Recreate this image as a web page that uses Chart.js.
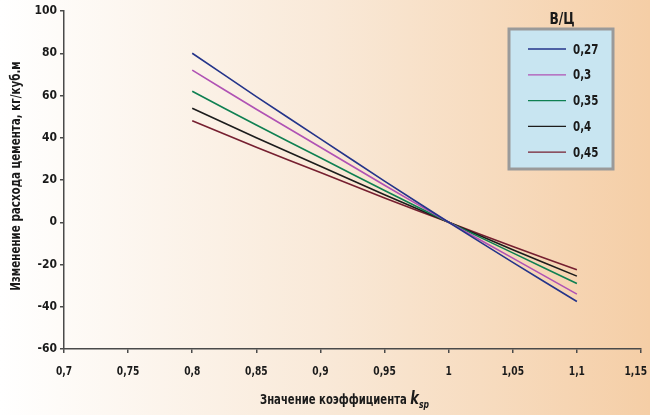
<!DOCTYPE html>
<html lang="ru">
<head>
<meta charset="utf-8">
<title>Изменение расхода цемента</title>
<script src="https://cdn.jsdelivr.net/npm/chart.js@4.4.1/dist/chart.umd.min.js"></script>
<style>
  html, body { margin: 0; padding: 0; background: #ffffff; }
  #wrap { width: 650px; height: 415px; position: relative; }
</style>
</head>
<body>
<div id="wrap"><canvas id="chart" width="650" height="415"></canvas></div>
<script>
// Значения коэффициента k_sp (ось X)
const kValues = [0.8, 0.85, 0.9, 0.95, 1, 1.05, 1.1];

// Изменение расхода цемента для разных В/Ц
const wc027 = [80, 59.5, 39.5, 19.5, 0, -19, -37.5];
const wc030 = [72, 53.5, 35.5, 17.5, 0, -17, -34];
const wc035 = [62, 46, 30.5, 15, 0, -14.5, -29];
const wc040 = [54, 40, 26.5, 13, 0, -13, -25.5];
const wc045 = [48, 35.5, 23.5, 11.5, 0, -11.5, -22.5];

const seriesLabels = ["0,27", "0,3", "0,35", "0,4", "0,45"];
const seriesValues = [wc027, wc030, wc035, wc040, wc045];
const seriesColors = ["#24348a", "#b052b4", "#0f8052", "#1c1c1c", "#761f30"];

const yTitle = "Изменение расхода цемента, кг/куб.м";
const xTitle = "Значение коэффициента ";

const FONT = "'DejaVu Sans Condensed', 'Liberation Sans Narrow', sans-serif";

Chart.defaults.font.family = FONT;
Chart.defaults.color = "#1a1a1a";

function fmt(v) {
  return String(Number(v.toFixed(2))).replace(".", ",");
}

// narrow text: draw squeezed horizontally to mimic a condensed face
function narrowText(ctx, text, x, y, sx) {
  ctx.save();
  ctx.translate(x, y);
  ctx.scale(sx, 1);
  ctx.fillText(text, 0, 0);
  ctx.restore();
  return ctx.measureText(text).width * sx;
}

// Background gradient behind whole picture
const bgPlugin = {
  id: "bg",
  beforeDraw(chart) {
    const ctx = chart.ctx;
    const g = ctx.createLinearGradient(0, 0, chart.width, 0);
    g.addColorStop(0, "#ffffff");
    g.addColorStop(0.5, "#f9e9d8");
    g.addColorStop(1, "#f5cea6");
    ctx.save();
    ctx.fillStyle = g;
    ctx.fillRect(0, 0, chart.width, chart.height);
    ctx.restore();
  },
};

// Legend box, x tick labels, axis titles
const extrasPlugin = {
  id: "extras",
  afterDraw(chart) {
    const ctx = chart.ctx;
    ctx.save();

    // x tick labels, placed by the x scale
    const xs = chart.scales.x;
    ctx.fillStyle = "#1a1a1a";
    ctx.font = "bold 13px " + FONT;
    ctx.textBaseline = "middle";
    ctx.textAlign = "left";
    xs.ticks.forEach((t) => {
      const s = fmt(t.value);
      const w = ctx.measureText(s).width * 0.78;
      const left = Math.min(xs.getPixelForValue(t.value) - w / 2, 647 - w);
      narrowText(ctx, s, left, 372, 0.78);
    });

    // legend
    const bx = 509, by = 29, bw = 104, bh = 140;
    ctx.fillStyle = "#c8e5f1";
    ctx.fillRect(bx, by, bw, bh);
    ctx.strokeStyle = "#9a9a9a";
    ctx.lineWidth = 3;
    ctx.strokeRect(bx, by, bw, bh);

    ctx.fillStyle = "#1a1a1a";
    ctx.font = "bold 16px " + FONT;
    const tw = ctx.measureText("В/Ц").width * 0.85;
    narrowText(ctx, "В/Ц", 562 - tw / 2, 20, 0.85);

    ctx.font = "bold 14px " + FONT;
    chart.data.datasets.forEach((ds, i) => {
      const y = 49 + i * 25.8;
      ctx.strokeStyle = ds.borderColor;
      ctx.lineWidth = 1.3;
      ctx.beginPath();
      ctx.moveTo(528, y);
      ctx.lineTo(566, y);
      ctx.stroke();
      ctx.fillStyle = "#1a1a1a";
      narrowText(ctx, ds.label, 573, y + 1, 0.82);
    });

    // x axis title
    ctx.textBaseline = "alphabetic";
    ctx.font = "bold 14px " + FONT;
    const x0 = 260, yb = 404;
    const w = narrowText(ctx, xTitle, x0, yb, 0.8);
    ctx.font = "italic bold 17px " + FONT;
    const wk = narrowText(ctx, "k", x0 + w, yb, 0.85);
    ctx.font = "italic bold 10px " + FONT;
    narrowText(ctx, "sp", x0 + w + wk, yb + 4, 0.85);

    // y axis title (rotated)
    ctx.font = "bold 14px " + FONT;
    ctx.textBaseline = "middle";
    ctx.textAlign = "center";
    ctx.save();
    ctx.translate(16, 176);
    ctx.rotate(-Math.PI / 2);
    ctx.scale(0.82, 1);
    ctx.fillText(yTitle, 0, 0);
    ctx.restore();

    ctx.restore();
  },
};

const datasets = seriesLabels.map((label, i) => ({
  label: label,
  data: kValues.map((k, j) => ({ x: k, y: seriesValues[i][j] })),
  borderColor: seriesColors[i],
  backgroundColor: seriesColors[i],
  borderWidth: 1.6,
  pointRadius: 0,
  tension: 0.3,
  fill: false,
}));

new Chart(document.getElementById("chart"), {
  type: "line",
  data: { datasets: datasets },
  options: {
    responsive: false,
    animation: false,
    devicePixelRatio: 1,
    layout: { padding: { top: 11, right: 9, left: 0, bottom: 0 } },
    plugins: {
      legend: { display: false },
      tooltip: { enabled: false },
    },
    scales: {
      x: {
        type: "linear",
        min: 0.7,
        max: 1.15,
        ticks: {
          stepSize: 0.05,
          display: false,
          callback: (v) => fmt(v),
        },
        grid: { drawOnChartArea: false, drawTicks: true, tickLength: 4, color: "#4a4a4a", lineWidth: 1.5 },
        border: { display: true, color: "#4a4a4a", width: 1.5 },
        afterFit(scale) {
          scale.height = 66;
          scale.paddingLeft = 0;
          scale.paddingRight = 0;
        },
      },
      y: {
        min: -60,
        max: 100,
        ticks: {
          stepSize: 20,
          padding: 3,
          font: { size: 12, weight: "bold" },
          color: "#1a1a1a",
        },
        grid: { drawOnChartArea: false, drawTicks: true, tickLength: 4, color: "#4a4a4a", lineWidth: 1.5 },
        border: { display: true, color: "#4a4a4a", width: 1.5 },
        afterFit(scale) {
          scale.width = 64;
          scale.paddingTop = 0;
          scale.paddingBottom = 0;
        },
      },
    },
  },
  plugins: [bgPlugin, extrasPlugin],
});
</script>
</body>
</html>
